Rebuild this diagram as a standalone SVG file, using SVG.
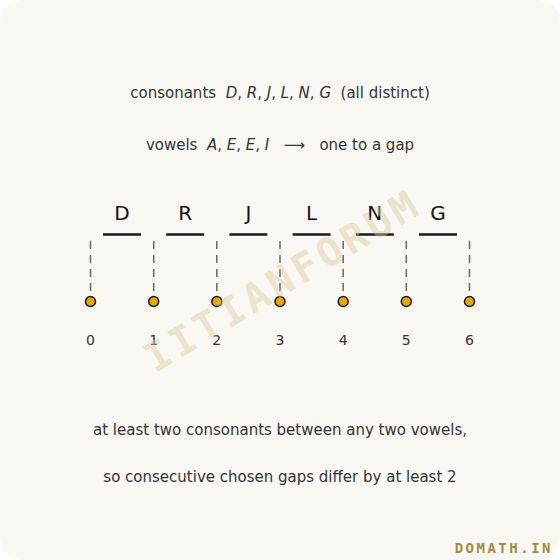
<svg xmlns="http://www.w3.org/2000/svg" width="560" height="560" viewBox="0 0 560 560">
<style>
.t{font-family:"DejaVu Sans",sans-serif;font-size:15px;fill:#333;text-anchor:middle;white-space:pre}
.i{font-style:italic}
.L{font-family:"DejaVu Sans",sans-serif;font-size:20px;fill:#111;text-anchor:middle}
.n{font-family:"DejaVu Sans",sans-serif;font-size:14px;fill:#333;text-anchor:middle}
.slot{stroke:#1a1a1a;stroke-width:2.5}
.dash{stroke:#666;stroke-width:1.5;stroke-dasharray:8,6}
.gap{fill:#e6a800;stroke:#1a1a1a;stroke-width:1.5}
</style>
<rect x="0" y="0" width="560" height="560" fill="#ffffff"/>
<rect x="0" y="0" width="560" height="560" rx="22" fill="#f9f8f3"/>
<text x="280" y="98" class="t" xml:space="preserve">consonants  <tspan class="i">D</tspan>, <tspan class="i">R</tspan>, <tspan class="i">J</tspan>, <tspan class="i">L</tspan>, <tspan class="i">N</tspan>, <tspan class="i">G</tspan>  (all distinct)</text>
<text x="280" y="150" class="t" xml:space="preserve">vowels  <tspan class="i">A</tspan>, <tspan class="i">E</tspan>, <tspan class="i">E</tspan>, <tspan class="i">I</tspan>   ⟶   one to a gap</text>
<g id="connectors">
<line class="dash" x1="90.5" y1="241" x2="90.5" y2="295"/>
<line class="dash" x1="153.7" y1="241" x2="153.7" y2="295"/>
<line class="dash" x1="216.8" y1="241" x2="216.8" y2="295"/>
<line class="dash" x1="280" y1="241" x2="280" y2="295"/>
<line class="dash" x1="343.2" y1="241" x2="343.2" y2="295"/>
<line class="dash" x1="406.3" y1="241" x2="406.3" y2="295"/>
<line class="dash" x1="469.5" y1="241" x2="469.5" y2="295"/>
</g>
<g id="c-D"><line class="slot" x1="103" y1="234.5" x2="141" y2="234.5"/><text x="122" y="220" class="L">D</text></g>
<g id="c-R"><line class="slot" x1="166.2" y1="234.5" x2="204.2" y2="234.5"/><text x="185.2" y="220" class="L">R</text></g>
<g id="c-J"><line class="slot" x1="229.4" y1="234.5" x2="267.4" y2="234.5"/><text x="248.4" y="220" class="L">J</text></g>
<g id="c-L"><line class="slot" x1="292.6" y1="234.5" x2="330.6" y2="234.5"/><text x="311.6" y="220" class="L">L</text></g>
<g id="c-N"><line class="slot" x1="355.8" y1="234.5" x2="393.8" y2="234.5"/><text x="374.8" y="220" class="L">N</text></g>
<g id="c-G"><line class="slot" x1="419" y1="234.5" x2="457" y2="234.5"/><text x="438" y="220" class="L">G</text></g>
<g id="g0"><circle class="gap" cx="90.5" cy="301.5" r="5"/><text x="90.5" y="345" class="n">0</text></g>
<g id="g1"><circle class="gap" cx="153.7" cy="301.5" r="5"/><text x="153.7" y="345" class="n">1</text></g>
<g id="g2"><circle class="gap" cx="216.8" cy="301.5" r="5"/><text x="216.8" y="345" class="n">2</text></g>
<g id="g3"><circle class="gap" cx="280" cy="301.5" r="5"/><text x="280" y="345" class="n">3</text></g>
<g id="g4"><circle class="gap" cx="343.2" cy="301.5" r="5"/><text x="343.2" y="345" class="n">4</text></g>
<g id="g5"><circle class="gap" cx="406.3" cy="301.5" r="5"/><text x="406.3" y="345" class="n">5</text></g>
<g id="g6"><circle class="gap" cx="469.5" cy="301.5" r="5"/><text x="469.5" y="345" class="n">6</text></g>
<text x="284" y="283" transform="rotate(-31 284 283)" font-family="DejaVu Sans Mono,monospace" font-weight="bold" font-size="40" letter-spacing="4.5" fill="#d9c89a" fill-opacity="0.45" text-anchor="middle" dominant-baseline="middle">IITIANFORUM</text>
<text x="280" y="435" class="t">at least two consonants between any two vowels,</text>
<text x="280" y="482" class="t">so consecutive chosen gaps differ by at least 2</text>
<text x="553" y="553" font-family="DejaVu Sans Mono,monospace" font-weight="bold" font-size="14" letter-spacing="2.5" fill="#a38b3c" text-anchor="end">DOMATH.IN</text>
</svg>
